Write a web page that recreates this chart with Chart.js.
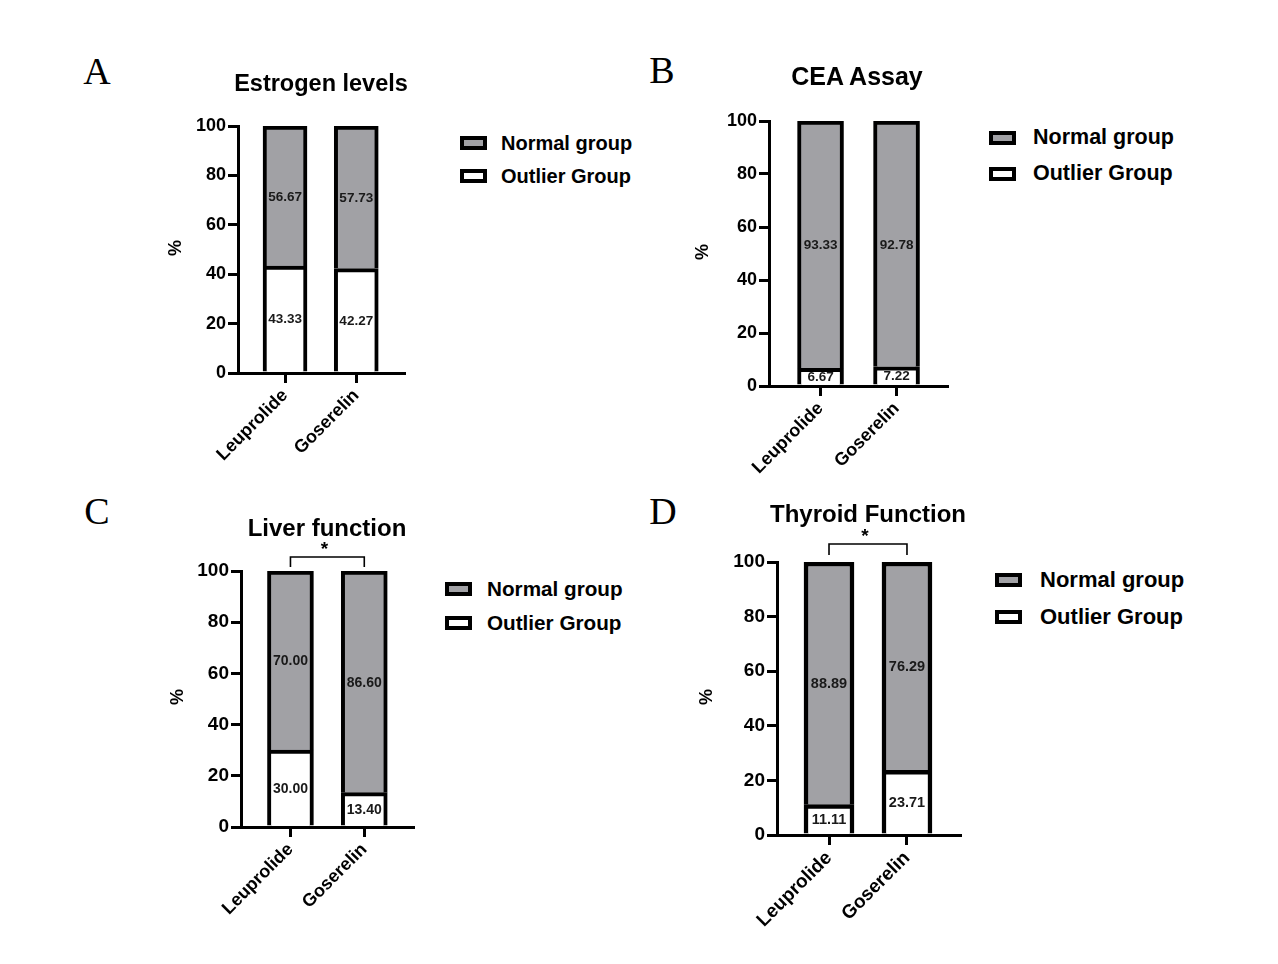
<!DOCTYPE html>
<html lang="en">
<head>
<meta charset="UTF-8">
<title>Normal vs Outlier groups</title>
<script src="https://cdn.jsdelivr.net/npm/chart.js@4.4.1/dist/chart.umd.min.js"></script>
<style>
  body { margin: 0; background: #fff; font-family: Arial, "Liberation Sans", sans-serif; }
  #page { position: relative; width: 1278px; height: 964px; overflow: hidden; }
  .abs { position: absolute; line-height: 1; white-space: nowrap; color: #000; }
  .letter { font-family: "Times New Roman", "Liberation Serif", serif; font-size: 38px; transform: translate(-50%, -50%); }
  .title { font-weight: bold; transform: translate(-50%, -50%); }
  .pct { font-weight: bold; font-size: 18px; transform: translate(-50%, -50%) rotate(-90deg); }
  .leg-box { position: absolute; width: 27px; height: 14px; border: 4px solid #000; box-sizing: border-box; transform: translateY(-50%); }
  .leg-text { font-weight: bold; transform: translateY(-50%); }
  canvas { position: absolute; }
</style>
</head>
<body>
<div id="page"></div>
<script>
    const drugs = ['Leuprolide', 'Goserelin'];
    const seriesNames = ['Normal group', 'Outlier Group'];
    const yTicks = [0, 20, 40, 60, 80, 100];

    const estrogenNormal = [56.67, 57.73];
    const estrogenOutlier = [43.33, 42.27];
    const ceaNormal = [93.33, 92.78];
    const ceaOutlier = [6.67, 7.22];
    const liverNormal = [70.00, 86.60];
    const liverOutlier = [30.00, 13.40];
    const thyroidNormal = [88.89, 76.29];
    const thyroidOutlier = [11.11, 23.71];

    const FONT = 'Arial, "Liberation Sans", sans-serif';
    const GRAY = '#a1a1a5';
    const page = document.getElementById('page');

    // layout of each panel (pixels on the page)
    const panels = [
        { letter: 'A', title: 'Estrogen levels', normal: estrogenNormal, outlier: estrogenOutlier,
          plot: { l: 238, r: 404, t: 126, b: 373 }, xMin: -0.66, xMax: 1.67, bar: 44, border: 4,
          tickFont: 18, xFont: 18, valFont: 13.5, sig: null,
          letterPos: [97, 71], titlePos: [321, 84, 23.5], pctPos: [175, 248],
          legend: { x: 460, tx: 501, y: [143, 176], size: 20 } },
        { letter: 'B', title: 'CEA Assay', normal: ceaNormal, outlier: ceaOutlier,
          plot: { l: 769, r: 947, t: 121, b: 386 }, xMin: -0.678, xMax: 1.664, bar: 46, border: 4,
          tickFont: 18, xFont: 18, valFont: 13.5, sig: null,
          letterPos: [662, 70], titlePos: [857, 76, 25], pctPos: [702, 252],
          legend: { x: 989, tx: 1033, y: [138, 174], size: 21.5 } },
        { letter: 'C', title: 'Liver function', normal: liverNormal, outlier: liverOutlier,
          plot: { l: 241, r: 413, t: 571, b: 827 }, xMin: -0.67, xMax: 1.66, bar: 46, border: 4,
          tickFont: 19, xFont: 18, valFont: 14, sig: { gap: 14, drop: 10 },
          letterPos: [97, 511], titlePos: [327, 528, 24], pctPos: [177, 697],
          legend: { x: 445, tx: 487, y: [589, 623], size: 20.7 } },
        { letter: 'D', title: 'Thyroid Function', normal: thyroidNormal, outlier: thyroidOutlier,
          plot: { l: 777, r: 960, t: 562, b: 835 }, xMin: -0.667, xMax: 1.68, bar: 50, border: 4.5,
          tickFont: 19, xFont: 19, valFont: 14.5, sig: { gap: 18, drop: 11 },
          letterPos: [663, 511], titlePos: [868, 514, 24], pctPos: [706, 697],
          legend: { x: 995, tx: 1040, y: [580, 617], size: 22 } }
    ];

    const valueLabels = {
        id: 'valueLabels',
        afterDatasetsDraw(chart, args, opts) {
            const ctx = chart.ctx;
            ctx.save();
            ctx.font = `bold ${opts.size}px ${FONT}`;
            ctx.fillStyle = '#1a1a1a';
            ctx.textAlign = 'center';
            ctx.textBaseline = 'middle';
            chart.data.datasets.forEach((ds, di) => {
                chart.getDatasetMeta(di).data.forEach((el, i) => {
                    ctx.fillText(ds.data[i].y.toFixed(2), el.x, (el.y + el.base) / 2 + 1);
                });
            });
            ctx.restore();
        }
    };

    const sigBracket = {
        id: 'sigBracket',
        afterDraw(chart, args, opts) {
            if (!opts.gap) return;
            const ctx = chart.ctx;
            const x0 = chart.scales.x.getPixelForValue(0);
            const x1 = chart.scales.x.getPixelForValue(1);
            const yb = chart.scales.y.getPixelForValue(100) - opts.gap;
            ctx.save();
            ctx.strokeStyle = '#000';
            ctx.lineWidth = 1.6;
            ctx.beginPath();
            ctx.moveTo(x0, yb + opts.drop);
            ctx.lineTo(x0, yb);
            ctx.lineTo(x1, yb);
            ctx.lineTo(x1, yb + opts.drop);
            ctx.stroke();
            ctx.font = `bold 19px ${FONT}`;
            ctx.fillStyle = '#000';
            ctx.textAlign = 'center';
            ctx.textBaseline = 'alphabetic';
            ctx.fillText('*', (x0 + x1) / 2 - 3, yb - 2);
            ctx.restore();
        }
    };

    function addText(cls, text, x, y, size) {
        const d = document.createElement('div');
        d.className = 'abs ' + cls;
        d.textContent = text;
        d.style.left = x + 'px';
        d.style.top = y + 'px';
        if (size) d.style.fontSize = size + 'px';
        page.appendChild(d);
    }

    function makePanel(p) {
        const padTop = 50, yW = 70, xH = 110, padRight = 12;
        const w = yW + (p.plot.r - p.plot.l) + padRight;
        const h = padTop + (p.plot.b - p.plot.t) + xH;
        const cv = document.createElement('canvas');
        cv.width = w;
        cv.height = h;
        cv.style.left = (p.plot.l - yW) + 'px';
        cv.style.top = (p.plot.t - padTop) + 'px';
        cv.style.width = w + 'px';
        cv.style.height = h + 'px';
        page.appendChild(cv);

        const axisBorder = { display: true, color: '#000', width: 3 };

        new Chart(cv, {
            type: 'bar',
            data: {
                datasets: [
                    {
                        label: seriesNames[1],
                        data: p.outlier.map((v, i) => ({ x: i, y: v })),
                        backgroundColor: '#fff',
                        borderColor: '#000',
                        borderWidth: p.border,
                        borderSkipped: 'bottom',
                        barThickness: p.bar
                    },
                    {
                        label: seriesNames[0],
                        data: p.normal.map((v, i) => ({ x: i, y: v })),
                        backgroundColor: GRAY,
                        borderColor: '#000',
                        borderWidth: p.border,
                        borderSkipped: 'bottom',
                        barThickness: p.bar
                    }
                ]
            },
            options: {
                responsive: false,
                animation: false,
                layout: { padding: { top: padTop, left: 0, right: padRight, bottom: 0 } },
                plugins: {
                    legend: { display: false },
                    tooltip: { enabled: false },
                    valueLabels: { size: p.valFont },
                    sigBracket: p.sig || {}
                },
                scales: {
                    x: {
                        type: 'linear',
                        stacked: true,
                        offset: false,
                        min: p.xMin,
                        max: p.xMax,
                        afterBuildTicks: s => { s.ticks = drugs.map((d, i) => ({ value: i })); },
                        afterFit: s => { s.height = xH; },
                        ticks: {
                            callback: v => drugs[v],
                            minRotation: 45,
                            maxRotation: 45,
                            autoSkip: false,
                            padding: 2,
                            color: '#000',
                            font: { family: FONT, size: p.xFont, weight: 'bold' }
                        },
                        grid: { offset: false, drawOnChartArea: false, drawTicks: true, tickLength: 10, color: '#000', lineWidth: 3 },
                        border: axisBorder
                    },
                    y: {
                        stacked: true,
                        min: 0,
                        max: 100,
                        afterBuildTicks: s => { s.ticks = yTicks.map(v => ({ value: v })); },
                        afterFit: s => { s.width = yW; },
                        ticks: {
                            padding: 2,
                            color: '#000',
                            font: { family: FONT, size: p.tickFont, weight: 'bold' }
                        },
                        grid: { drawOnChartArea: false, drawTicks: true, tickLength: 10, color: '#000', lineWidth: 3 },
                        border: axisBorder
                    }
                }
            },
            plugins: [valueLabels, sigBracket]
        });

        addText('letter', p.letter, p.letterPos[0], p.letterPos[1]);
        addText('title', p.title, p.titlePos[0], p.titlePos[1], p.titlePos[2]);
        addText('pct', '%', p.pctPos[0], p.pctPos[1]);

        [GRAY, '#fff'].forEach((c, k) => {
            const b = document.createElement('div');
            b.className = 'leg-box';
            b.style.left = p.legend.x + 'px';
            b.style.top = p.legend.y[k] + 'px';
            b.style.background = c;
            page.appendChild(b);
            addText('leg-text', seriesNames[k], p.legend.tx, p.legend.y[k], p.legend.size);
        });
    }

    panels.forEach(makePanel);
</script>
</body>
</html>
